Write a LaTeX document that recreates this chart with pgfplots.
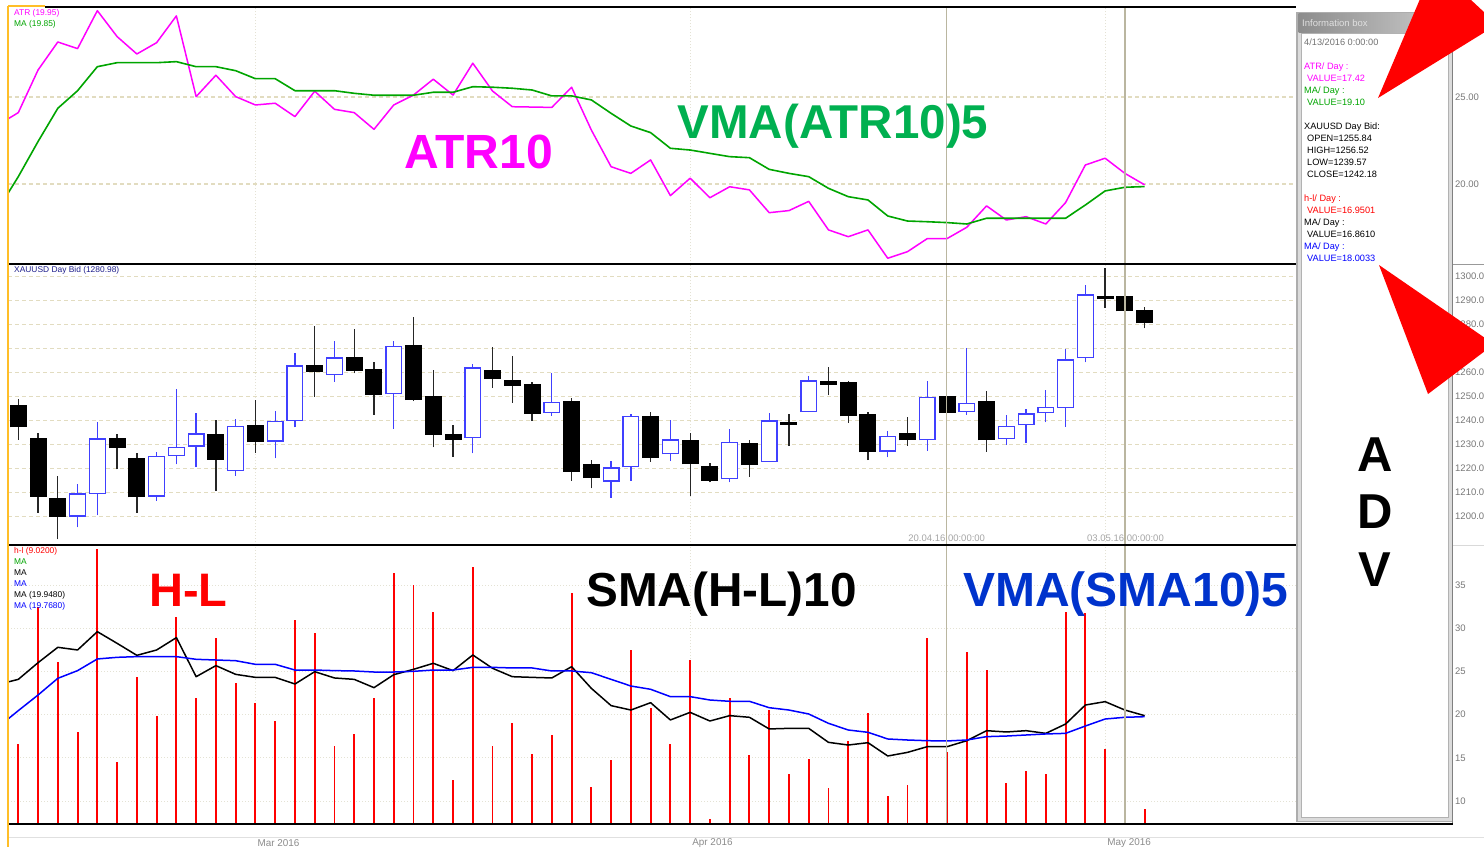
\documentclass[border=0pt]{standalone}
\usepackage{fontspec}
\setmainfont{Liberation Sans}
\usepackage{pgfplots}
\usepackage{pgfplotstable}
\pgfplotsset{compat=1.18}

\newcommand{\fs}[1]{\fontsize{#1}{#1}\selectfont}

\definecolor{atrmag}{RGB}{255,0,255}
\definecolor{maline}{RGB}{0,165,0}
\definecolor{lblgreen}{RGB}{0,176,80}
\definecolor{candleblue}{RGB}{64,64,255}
\definecolor{hlred}{RGB}{255,0,0}
\definecolor{smablue}{RGB}{0,0,255}
\definecolor{vmablue}{RGB}{0,51,204}
\definecolor{gridbeige}{RGB}{226,220,192}
\definecolor{griddot}{RGB}{228,226,212}
\definecolor{cursor}{RGB}{186,182,160}
\definecolor{ticktext}{RGB}{120,120,120}
\definecolor{navy}{RGB}{30,30,140}
\definecolor{orangeedge}{RGB}{255,190,40}

% ---- ATR10 and its 5-bar MA (top panel) ----
\pgfplotstableread{
x atr ma
-1 23.41 18.59
0 24.10 20.42
1 26.55 22.44
2 28.16 24.35
3 27.78 25.36
4 29.96 26.74
5 28.47 26.97
6 27.47 26.97
7 28.12 26.97
8 29.66 27.03
9 25.02 26.74
10 26.25 26.74
11 25.02 26.51
12 24.54 26.05
13 24.64 26.05
14 23.87 25.36
15 25.33 25.36
16 24.29 25.36
17 24.10 25.21
18 23.14 25.10
19 24.54 25.10
20 25.11 25.10
21 26.02 25.27
22 25.11 25.27
23 26.94 25.59
24 25.34 25.56
25 24.44 25.50
26 24.42 25.40
27 24.40 25.06
28 25.56 25.06
29 23.10 24.83
30 20.99 24.06
31 20.61 23.33
32 21.38 22.95
33 19.33 22.05
34 20.33 21.95
35 19.21 21.76
36 19.84 21.57
37 19.66 21.51
38 18.35 20.84
39 18.47 20.61
40 19.00 20.42
41 17.36 19.75
42 16.97 19.27
43 17.36 19.08
44 15.73 18.16
45 16.11 17.87
46 16.86 17.83
47 16.86 17.78
48 17.51 17.70
49 18.74 18.03
50 17.93 18.03
51 18.12 18.03
52 17.70 18.03
53 18.93 18.03
54 21.09 18.79
55 21.48 19.60
56 20.61 19.81
57 19.95 19.85
}\atrtab

% ---- candles: bearish (black) ----
\pgfplotstableread{
x H O C L
0 1248.9 1246.1 1237.5 1232.0
1 1234.7 1232.7 1208.6 1201.7
2 1217.0 1207.4 1200.3 1190.6
5 1234.5 1232.7 1228.8 1219.7
6 1226.4 1224.3 1208.4 1201.7
10 1240.3 1234.3 1224.0 1210.9
12 1248.6 1237.8 1231.3 1226.7
15 1279.6 1263.1 1260.6 1250.0
17 1278.1 1266.4 1261.1 1259.7
18 1264.6 1261.1 1251.0 1242.4
20 1283.3 1271.1 1248.9 1248.2
21 1261.1 1250.0 1234.5 1228.9
22 1238.2 1234.3 1232.2 1225.0
24 1270.6 1260.7 1257.6 1253.8
25 1267.0 1256.7 1254.9 1247.5
26 1256.0 1254.9 1243.2 1240.0
28 1249.3 1247.9 1219.0 1215.0
29 1223.6 1221.6 1216.4 1211.8
32 1243.8 1241.6 1224.7 1222.9
34 1235.0 1231.6 1222.1 1208.8
35 1222.2 1220.9 1215.3 1214.3
37 1232.0 1230.4 1221.8 1216.7
39 1242.8 1239.3 1238.7 1229.5
41 1262.2 1256.4 1255.2 1250.7
42 1256.7 1255.7 1242.1 1239.2
43 1243.8 1242.7 1227.1 1223.6
45 1241.7 1234.6 1232.1 1229.5
47 1250.0 1250.0 1243.6 1243.6
49 1252.4 1248.1 1232.1 1227.1
55 1303.5 1291.7 1291.0 1287.1
56 1291.7 1291.7 1285.9 1285.9
57 1287.5 1285.7 1280.9 1278.5
}\bear

% ---- candles: bullish (blue, hollow) ----
\pgfplotstableread{
x H O C L
3 1213.6 1200.0 1209.7 1195.6
4 1239.6 1209.5 1232.7 1200.6
7 1226.8 1208.4 1225.4 1206.7
8 1253.1 1225.3 1229.2 1221.8
9 1243.1 1229.2 1234.7 1220.8
11 1240.7 1219.0 1237.8 1217.1
13 1244.0 1231.3 1240.0 1224.3
14 1268.1 1239.9 1263.1 1237.2
16 1273.2 1259.0 1266.4 1256.3
19 1273.2 1251.0 1271.1 1236.6
23 1263.6 1232.7 1262.2 1226.4
27 1260.0 1243.2 1247.9 1242.1
30 1223.2 1214.6 1220.6 1207.9
31 1242.8 1220.6 1242.0 1215.0
33 1240.3 1226.0 1232.2 1223.2
36 1236.4 1215.6 1231.3 1214.3
38 1243.1 1222.7 1240.2 1222.7
40 1258.6 1243.6 1256.8 1243.6
44 1235.8 1227.1 1233.8 1224.7
46 1256.6 1231.8 1250.0 1227.4
48 1270.2 1243.6 1247.5 1242.4
50 1242.4 1232.2 1237.8 1229.9
51 1244.7 1238.1 1243.1 1230.8
52 1252.8 1243.1 1245.8 1239.3
53 1269.7 1245.3 1265.6 1237.5
54 1296.5 1266.0 1292.7 1264.3
}\bull

% ---- H-L, SMA(H-L)10, VMA(SMA10)5 (bottom panel) ----
\pgfplotstableread{
x hl sma vma
-1 nan 23.50 18.60
0 16.60 24.08 20.46
1 32.49 26.01 22.27
2 26.09 27.79 24.20
3 17.99 27.48 25.09
4 39.13 29.60 26.44
5 14.48 28.25 26.63
6 24.32 26.86 26.71
7 19.84 27.48 26.71
8 31.34 28.91 26.71
9 21.92 24.39 26.40
10 28.87 25.67 26.32
11 23.62 24.66 26.24
12 21.31 24.31 25.82
13 19.26 24.31 25.82
14 30.95 23.54 25.16
15 29.41 24.97 25.16
16 16.37 24.24 25.09
17 17.76 24.08 25.05
18 21.92 23.12 24.93
19 36.35 24.62 24.93
20 34.96 25.24 25.01
21 31.88 25.94 25.16
22 12.43 25.09 25.16
23 37.12 26.90 25.47
24 16.37 25.36 25.47
25 19.07 24.39 25.40
26 15.44 24.31 25.40
27 17.68 24.24 25.05
28 34.11 25.55 25.05
29 11.58 23.04 24.85
30 14.75 21.04 24.08
31 27.48 20.53 23.31
32 20.77 21.38 22.93
33 16.60 19.38 22.08
34 26.32 20.26 22.08
35 7.96 19.26 21.69
36 21.92 19.88 21.54
37 15.29 19.69 21.54
38 20.53 18.34 20.80
39 13.13 18.41 20.53
40 14.82 18.41 20.07
41 11.51 16.79 18.99
42 16.91 16.48 18.22
43 20.15 16.75 17.95
44 10.58 15.21 17.18
45 11.81 15.63 17.06
46 28.87 16.29 16.98
47 15.67 16.29 16.95
48 27.25 16.98 17.06
49 25.16 18.14 17.45
50 12.12 17.99 17.52
51 13.43 18.14 17.64
52 13.09 17.83 17.76
53 31.88 18.91 17.83
54 31.72 21.11 18.68
55 15.98 21.50 19.49
56 19.76 20.53 19.69
57 9.02 19.88 19.76
}\hltab

\pgfplotsset{
  panel/.style={
    scale only axis, width=1444pt,
    xmin=-0.5213, xmax=72.555,
    axis line style={draw=none},
    tick style={draw=none},
    major tick length=0pt,
    xtick={12,34,55}, xticklabels={},
    xmajorgrids, ymajorgrids,
    x grid style={griddot, dash pattern=on 1pt off 2pt, line width=0.8pt},
    yticklabel pos=right,
    yticklabel style={font=\fs{9.5}, text=ticktext, anchor=west, inner sep=0pt, xshift=3pt},
    /pgf/number format/assume math mode=true,
    /pgf/number format/1000 sep={},
  },
}

\begin{document}
\begin{tikzpicture}
\path[use as bounding box] (0pt,0pt) rectangle (1484pt,-847pt);
\clip (0pt,0pt) rectangle (1484pt,-847pt);
\fill[white] (0pt,0pt) rectangle (1484pt,-847pt);

% ── top panel: ATR10 / VMA(ATR10)5 ──
\begin{axis}[panel, at={(8pt,-264pt)}, anchor=south west, height=257pt,
  ymin=15.40, ymax=30.17, ytick={20,25},
  yticklabel style={/pgf/number format/fixed, /pgf/number format/fixed zerofill,
    /pgf/number format/precision=2},
  y grid style={gridbeige, dash pattern=on 4pt off 3pt, line width=1.1pt}]
\addplot[atrmag, line width=1.5pt, line join=round] table[x=x, y=atr] {\atrtab};
\addplot[maline, line width=1.6pt, line join=round] table[x=x, y=ma] {\atrtab};
\end{axis}

% ── middle panel: XAUUSD daily candles ──
\begin{axis}[panel, at={(8pt,-545pt)}, anchor=south west, height=281pt,
  ymin=1188.21, ymax=1305.29, ytick={1200,1210,...,1300},
  yticklabel style={/pgf/number format/fixed, /pgf/number format/fixed zerofill,
    /pgf/number format/precision=2},
  y grid style={gridbeige, dash pattern=on 4pt off 3pt, line width=1.1pt}]
% wicks
\addplot[draw=none, mark=none, error bars/.cd, y dir=plus, y explicit, error mark=none,
  error bar style={draw=black!85, line width=1.3pt}]
  table[x=x, y=L, y error plus expr=\thisrow{H}-\thisrow{L}] {\bear};
\addplot[draw=none, mark=none, error bars/.cd, y dir=plus, y explicit, error mark=none,
  error bar style={draw=candleblue, line width=1.3pt}]
  table[x=x, y=L, y error plus expr=\thisrow{H}-\thisrow{L}] {\bull};
% bodies
\addplot[draw=none, mark=none, error bars/.cd, y dir=plus, y explicit, error mark=none,
  error bar style={draw=black, line width=17pt}]
  table[x=x, y expr=\thisrow{C}-0.3, y error plus expr=\thisrow{O}-\thisrow{C}+0.6] {\bear};
\addplot[draw=none, mark=none, error bars/.cd, y dir=plus, y explicit, error mark=none,
  error bar style={draw=candleblue, line width=17pt}]
  table[x=x, y=O, y error plus expr=\thisrow{C}-\thisrow{O}] {\bull};
\addplot[draw=none, mark=none, error bars/.cd, y dir=plus, y explicit, error mark=none,
  error bar style={draw=white, line width=14.4pt}]
  table[x=x, y expr=\thisrow{O}+0.55, y error plus expr=\thisrow{C}-\thisrow{O}-1.1] {\bull};
\end{axis}

% ── bottom panel: H-L, SMA(H-L)10, VMA(SMA10)5 ──
\begin{axis}[panel, at={(8pt,-824pt)}, anchor=south west, height=279pt,
  ymin=7.338, ymax=39.63, ytick={10,15,...,35},
  y grid style={griddot, dash pattern=on 1pt off 2pt, line width=0.8pt},
  xticklabels={Mar 2016, Apr 2016, May 2016},
  xticklabel style={font=\fs{9.9}, text=black!45, anchor=west, inner sep=0pt,
    xshift=2pt, yshift=-19pt}]
\addplot[hlred, ycomb, line width=1.9pt] table[x=x, y=hl] {\hltab};
\addplot[black, line width=1.5pt, line join=round] table[x=x, y=sma] {\hltab};
\addplot[smablue, line width=1.5pt, line join=round] table[x=x, y=vma] {\hltab};
\end{axis}

\begin{scope}[x=1pt, y=-1pt]
% cursor lines
\draw[cursor, line width=1.1pt] (946.7,7) -- (946.7,824);
\draw[cursor, line width=1.1pt] (1125,7) -- (1125,824);

% frame
\draw[black, line width=1.2pt] (45,7) -- (1296,7);
\draw[black, line width=1.3pt] (8,264) -- (1453,264);
\draw[black, line width=1.3pt] (8,545) -- (1453,545);
\draw[black, line width=1.3pt] (8,824) -- (1453,824);
\draw[black!12, line width=1pt] (8,837.7) -- (1484,837.7);
\draw[orangeedge, line width=1.3pt] (8,6) -- (45,6);
\draw[orangeedge, line width=1.3pt] (8,6) -- (8,847);

% cursor date labels
\node[font=\fs{9.5}, text=black!35, inner sep=0pt] at (946.7,538.3) {20.04.16 00:00:00};
\node[font=\fs{9.5}, text=black!35, inner sep=0pt] at (1125.5,538.3) {03.05.16 00:00:00};

% panel legends
\begin{scope}[every node/.style={anchor=west, inner sep=0pt, font=\fs{8.4}}]
\node[text=atrmag] at (14,13.3) {ATR (19.95)};
\node[text=maline] at (14,24.3) {MA (19.85)};
\node[text=navy] at (14,270) {XAUUSD Day Bid (1280.98)};
\node[text=hlred] at (14,551) {h-l (9.0200)};
\node[text=maline] at (14,562) {MA};
\node[text=black] at (14,573) {MA};
\node[text=smablue] at (14,584) {MA};
\node[text=black] at (14,595) {MA (19.9480)};
\node[text=smablue] at (14,606.3) {MA (19.7680)};
\end{scope}

% big labels
\begin{scope}[every node/.style={anchor=base, inner sep=0pt}]
\node[font=\fs{48}\bfseries, text=atrmag] at (478.5,168.3) {ATR10};
\node[font=\fs{47.5}\bfseries, text=lblgreen] at (833,138) {VMA(ATR10)5};
\node[font=\fs{47}\bfseries, text=hlred] at (188.5,606.7) {H-L};
\node[font=\fs{47.7}\bfseries, text=black] at (721.5,606.7) {SMA(H-L)10};
\node[font=\fs{48}\bfseries, text=vmablue] at (1126,606.7) {VMA(SMA10)5};
\end{scope}

% information box
\fill[black!32] (1296,12) rectangle (1453,822);
\fill[black!14] (1297.5,13.5) rectangle (1451.5,820.5);
\shade[left color=black!45, right color=black!20] (1298.5,13.5) rectangle (1450.5,32);
\node[anchor=west, inner sep=0pt, font=\fs{9.5}, text=black!12] at (1302,22.7) {Information box};
\fill[white] (1301,33) rectangle (1448,817);
\draw[black!30, line width=0.8pt] (1301,33) rectangle (1448,817);
\begin{scope}[every node/.style={anchor=west, inner sep=0pt, font=\fs{9.2}}]
\node[text=black!55] at (1304,42.7) {4/13/2016 0:00:00};
\node[text=atrmag] at (1304,66.7) {ATR/ Day :};
\node[text=atrmag] at (1307,78.7) {VALUE=17.42};
\node[text=maline] at (1304,90.7) {MA/ Day :};
\node[text=maline] at (1307,102.7) {VALUE=19.10};
\node[text=black] at (1304,126.7) {XAUUSD Day Bid:};
\node[text=black] at (1307,138.7) {OPEN=1255.84};
\node[text=black] at (1307,150.7) {HIGH=1256.52};
\node[text=black] at (1307,162.7) {LOW=1239.57};
\node[text=black] at (1307,174.7) {CLOSE=1242.18};
\node[text=hlred] at (1304,198.7) {h-l/ Day :};
\node[text=hlred] at (1307,210.7) {VALUE=16.9501};
\node[text=black] at (1304,222.7) {MA/ Day :};
\node[text=black] at (1307,234.7) {VALUE=16.8610};
\node[text=smablue] at (1304,246.7) {MA/ Day :};
\node[text=smablue] at (1307,258.7) {VALUE=18.0033};
\end{scope}
\begin{scope}[every node/.style={anchor=base, inner sep=0pt, font=\fs{49}\bfseries}]
\node at (1375,471.7) {A};
\node at (1375,528.3) {D};
\node at (1375,586.7) {V};
\end{scope}

% right scale strip
\draw[black!50, line width=1.8pt] (1452.5,0) -- (1452.5,823);
\draw[black!40, line width=1pt] (1453,264) -- (1484,264);
\draw[black!15, line width=1pt] (1453,545) -- (1484,545);

% red arrows
\fill[red] (1378,98) -- (1420,-1) -- (1470,-1) -- (1485,13) -- (1485,32) -- cycle;
\fill[red] (1379,265) -- (1485,338) -- (1485,351) -- (1428,394) -- cycle;
\end{scope}
\end{tikzpicture}
\end{document}
